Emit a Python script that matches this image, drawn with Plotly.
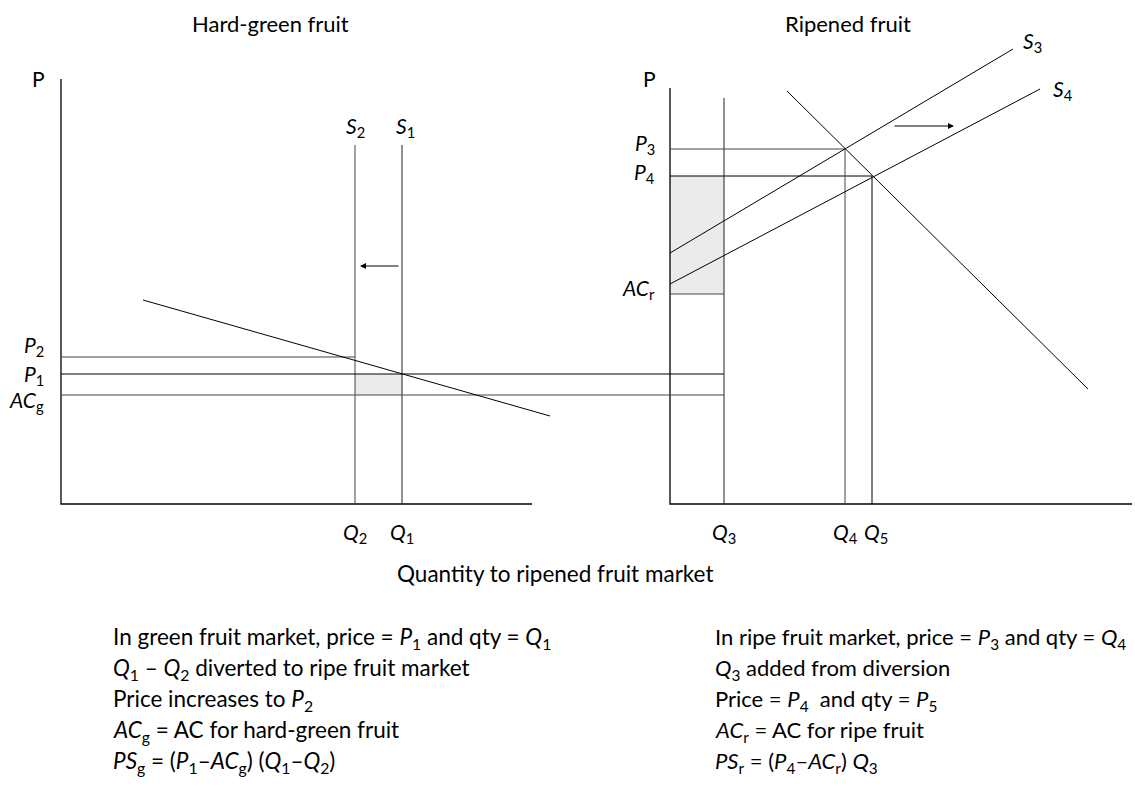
import plotly.graph_objects as go

W, H = 1135, 794
FONT = "Lato"

# ---- hard-green fruit panel (drawing units, y grows downward) ----
green_axis_x = 61
green_axis_top = 79
base_y = 504
green_axis_end = 532
Q2, Q1 = 355, 402
P2, P1, ACg = 357, 374, 395
green_supply_top = 145
green_demand_x = [143, 550]
green_demand_y = [300, 416]

# ---- ripened fruit panel ----
ripe_axis_x = 670
ripe_axis_top = 88
ripe_axis_end = 1132
Q3, Q4, Q5 = 724, 845, 872
P3, P4, ACr = 149, 176, 294
q3_top = 98
s3_x, s3_y = [670, 1013], [253, 49]
s4_x, s4_y = [670, 1040], [284, 89]
ripe_demand_x = [787, 1088]
ripe_demand_y = [91, 389]

notes_left = [
    "In green fruit market, price = <i>P</i><sub>1</sub> and qty = <i>Q</i><sub>1</sub>",
    "<i>Q</i><sub>1</sub> – <i>Q</i><sub>2</sub> diverted to ripe fruit market",
    "Price increases to <i>P</i><sub>2</sub>",
    "<i>AC</i><sub>g</sub> = AC for hard-green fruit",
    "<i>PS</i><sub>g</sub> = (<i>P</i><sub>1</sub>–<i>AC</i><sub>g</sub>) (<i>Q</i><sub>1</sub>–<i>Q</i><sub>2</sub>)",
]
notes_right = [
    "In ripe fruit market, price = <i>P</i><sub>3</sub> and qty = <i>Q</i><sub>4</sub>",
    "<i>Q</i><sub>3</sub> added from diversion",
    "Price = <i>P</i><sub>4</sub>  and qty = <i>P</i><sub>5</sub>",
    "<i>AC</i><sub>r</sub> = AC for ripe fruit",
    "<i>PS</i><sub>r</sub> = (<i>P</i><sub>4</sub>–<i>AC</i><sub>r</sub>) <i>Q</i><sub>3</sub>",
]
notes_y = [638, 669, 700, 731, 762]

fig = go.Figure()


def seg(xs, ys, color="black", width=1):
    fig.add_trace(go.Scatter(x=xs, y=ys, mode="lines",
                             line=dict(color=color, width=width),
                             hoverinfo="skip", showlegend=False))


def box(x0, x1, y0, y1):
    fig.add_trace(go.Scatter(x=[x0, x1, x1, x0, x0], y=[y0, y0, y1, y1, y0],
                             mode="lines", fill="toself", fillcolor="#ebebeb",
                             line=dict(width=0), hoverinfo="skip", showlegend=False))


def label(x, y, text, size=21, xanchor="center"):
    fig.add_annotation(x=x, y=y, text=text, showarrow=False, xanchor=xanchor,
                       yanchor="middle", font=dict(family=FONT, size=size, color="black"))


# shaded producer-surplus areas
box(Q2, Q1, P1, ACg)
box(ripe_axis_x, Q3, P4, ACr)

# axes
seg([green_axis_x, green_axis_x, green_axis_end], [green_axis_top, base_y, base_y], width=1.3)
seg([ripe_axis_x, ripe_axis_x, ripe_axis_end], [ripe_axis_top, base_y, base_y], width=1.3)

# hard-green market
seg([Q2, Q2], [green_supply_top, base_y], color="#444")
seg([Q1, Q1], [green_supply_top, base_y], color="#222")
seg([green_axis_x, Q2], [P2, P2], color="#444")
seg([green_axis_x, Q3], [P1, P1], color="black")
seg([green_axis_x, Q3], [ACg, ACg], color="#444")
seg(green_demand_x, green_demand_y)

# ripened market
seg([Q3, Q3], [q3_top, base_y], color="#222")
seg([ripe_axis_x, Q4], [P3, P3], color="#444")
seg([ripe_axis_x, Q5], [P4, P4], color="black")
seg([ripe_axis_x, Q3], [ACr, ACr], color="#444")
seg([Q4, Q4], [P3, base_y], color="#444")
seg([Q5, Q5], [P4, base_y], color="black")
seg(s3_x, s3_y)
seg(s4_x, s4_y)
seg(ripe_demand_x, ripe_demand_y)

# shift arrows
fig.add_annotation(x=360, y=266, ax=400, ay=266, xref="x", yref="y", axref="x", ayref="y",
                   text="", showarrow=True, arrowhead=2, arrowsize=1.2, arrowwidth=1, arrowcolor="black")
fig.add_annotation(x=954, y=126, ax=893, ay=126, xref="x", yref="y", axref="x", ayref="y",
                   text="", showarrow=True, arrowhead=2, arrowsize=1.2, arrowwidth=1, arrowcolor="black")

# titles and curve labels
label(270, 23, "Hard-green fruit", size=22)
label(848, 23, "Ripened fruit", size=22)
label(38, 78, "P")
label(649, 78, "P")
label(Q2, 127, "<i>S</i><sub>2</sub>")
label(Q1 + 3, 127, "<i>S</i><sub>1</sub>")
label(1032, 42, "<i>S</i><sub>3</sub>")
label(1063, 90, "<i>S</i><sub>4</sub>")

label(46, P2 - 11, "<i>P</i><sub>2</sub>", xanchor="right")
label(46, P1 + 1, "<i>P</i><sub>1</sub>", xanchor="right")
label(46, ACg + 6, "<i>AC</i><sub>g</sub>", xanchor="right")
label(657, P3 - 5, "<i>P</i><sub>3</sub>", xanchor="right")
label(657, P4 - 3, "<i>P</i><sub>4</sub>", xanchor="right")
label(657, ACr - 5, "<i>AC</i><sub>r</sub>", xanchor="right")

for q, t in [(Q2, "<i>Q</i><sub>2</sub>"), (Q1, "<i>Q</i><sub>1</sub>"), (Q3, "<i>Q</i><sub>3</sub>"),
             (Q4, "<i>Q</i><sub>4</sub>"), (Q5 + 4, "<i>Q</i><sub>5</sub>")]:
    label(q, 533, t)

label(555, 573, "Quantity to ripened fruit market", size=22.5)

for y, t in zip(notes_y, notes_left):
    label(111, y, t, size=22.5, xanchor="left")
for y, t in zip(notes_y, notes_right):
    label(713, y, t, size=22, xanchor="left")

fig.update_xaxes(range=[0, W], visible=False, fixedrange=True)
fig.update_yaxes(range=[H, 0], visible=False, fixedrange=True)
fig.update_layout(width=W, height=H, margin=dict(l=0, r=0, t=0, b=0),
                  plot_bgcolor="white", paper_bgcolor="white",
                  font=dict(family=FONT, color="black"))

fig.write_html("out.html", config={"displayModeBar": False},
               post_script="document.body.style.margin='0';document.body.style.overflow='hidden';")
